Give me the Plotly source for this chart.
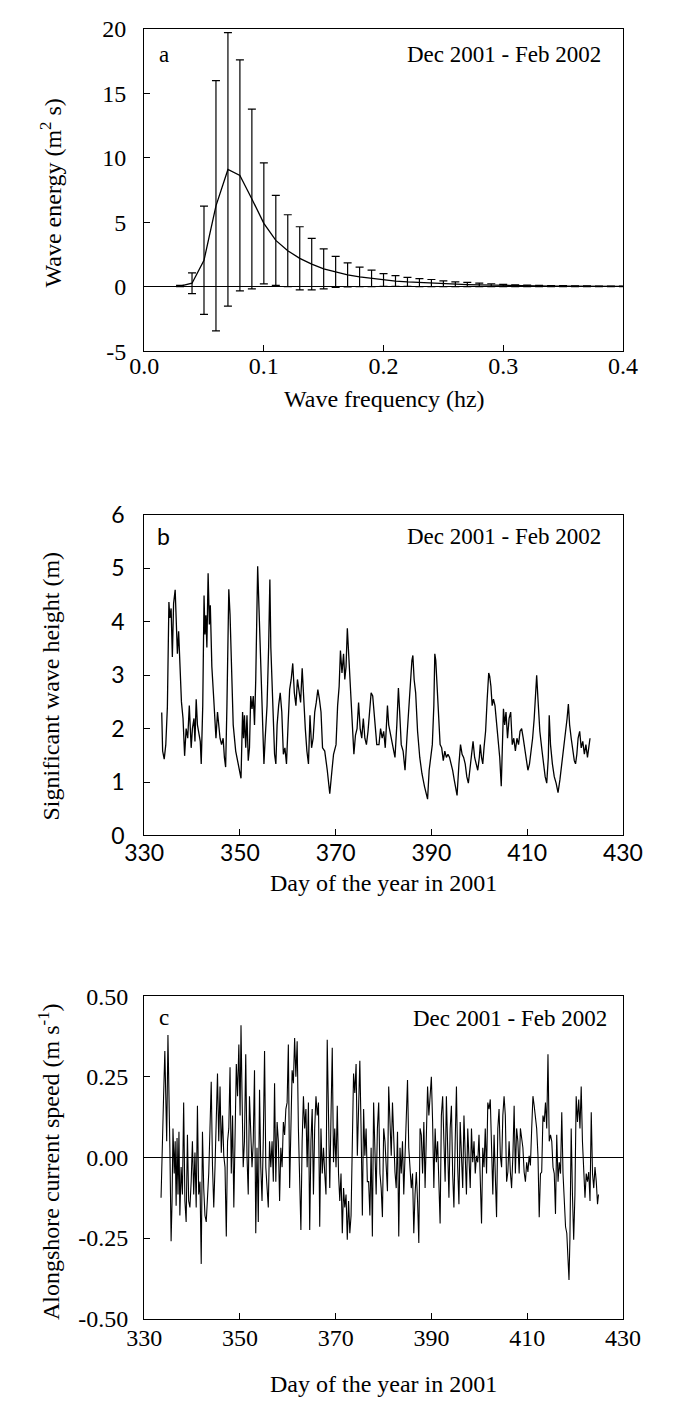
import plotly.graph_objects as go

W, H = 673, 1416
SERIF = "Liberation Serif"
SANS_B = "Lato"

# ---------------- Panel a: wave energy spectrum ----------------
freq = [0.03, 0.04, 0.05, 0.06, 0.07, 0.08, 0.09, 0.10, 0.11, 0.12,
        0.13, 0.14, 0.15, 0.16, 0.17, 0.18, 0.19, 0.20, 0.21, 0.22,
        0.23, 0.24, 0.25, 0.26, 0.27, 0.28, 0.29, 0.30, 0.31, 0.32,
        0.33, 0.34, 0.35, 0.36, 0.37, 0.38, 0.39, 0.40]
energy_mean = [0.05, 0.27, 2.05, 6.27, 9.09, 8.63, 6.8, 4.91, 3.59, 2.79,
               2.2, 1.75, 1.38, 1.15, 0.92, 0.76, 0.64, 0.52, 0.44, 0.37,
               0.32, 0.28, 0.23, 0.19, 0.165, 0.14, 0.115, 0.09, 0.075, 0.065,
               0.055, 0.045, 0.04, 0.035, 0.03, 0.025, 0.02, 0.02]
energy_sd = [0.05, 0.8, 4.2, 9.7, 10.6, 8.95, 6.97, 4.69, 3.49, 2.79,
             2.45, 2.0, 1.55, 1.2, 0.93, 0.76, 0.64, 0.5, 0.42, 0.35,
             0.31, 0.28, 0.23, 0.19, 0.165, 0.14, 0.115, 0.09, 0.075, 0.065,
             0.055, 0.045, 0.04, 0.035, 0.03, 0.025, 0.02, 0.02]
freq_ticks = [0.0, 0.1, 0.2, 0.3, 0.4]
freq_labels = ["0.0", "0.1", "0.2", "0.3", "0.4"]
energy_ticks = [-5, 0, 5, 10, 15, 20]
energy_labels = ["-5", "0", "5", "10", "15", "20"]

# ---------------- Panel b: significant wave height ----------------
hs_day = [333.67, 333.86, 334.19, 334.52, 334.85, 335.17, 335.37, 335.63, 335.89, 336.15,
          336.48, 336.68, 336.94, 337.2, 337.46, 337.79, 338.12, 338.45, 338.77, 339.1,
          339.43, 339.63, 339.82, 340.08, 340.41, 340.61, 340.87, 341.13, 341.39, 341.72,
          341.92, 342.24, 342.51, 342.7, 342.9, 343.1, 343.36, 343.62, 343.82, 344.14,
          344.54, 345.0, 345.32, 345.52, 345.85, 346.17, 346.5, 346.76, 347.02, 347.29,
          347.48, 347.68, 347.94, 348.2, 348.6, 349.12, 349.58, 349.91, 350.23, 350.56,
          350.76, 350.95, 351.22, 351.48, 351.74, 352.0, 352.26, 352.53, 352.79, 353.05,
          353.31, 353.71, 353.97, 354.23, 354.49, 354.76, 355.02, 355.28, 355.67, 356.0,
          356.26, 356.46, 356.72, 356.98, 357.24, 357.51, 357.77, 358.09, 358.42, 358.75,
          359.08, 359.4, 359.73, 360.06, 360.39, 360.71, 361.04, 361.37, 361.7, 362.02,
          362.35, 362.68, 363.01, 363.33, 363.66, 363.99, 364.32, 364.64, 364.97, 365.3,
          365.63, 365.95, 366.28, 366.61, 366.94, 367.26, 367.72, 368.25, 368.77, 369.23,
          369.56, 370.08, 370.41, 370.73, 371.0, 371.32, 371.65, 371.91, 372.17, 372.44,
          372.7, 372.96, 373.22, 373.48, 373.81, 374.14, 374.47, 374.79, 375.12, 375.45,
          375.78, 376.1, 376.43, 376.76, 377.09, 377.41, 377.74, 378.07, 378.59,
          379.05, 379.38, 379.71, 380.03, 380.36, 380.82, 381.08, 381.34, 381.67, 382.0,
          382.39, 382.78, 383.11, 383.37, 383.7, 384.09, 384.49, 384.88, 385.27, 385.6,
          385.93, 386.13, 386.39, 386.71, 387.11, 387.57, 388.02, 388.55, 388.94, 389.2,
          389.53, 389.86, 390.19, 390.51, 390.71, 390.91, 391.17, 391.49, 391.82, 392.15,
          392.48, 392.8, 393.13, 393.46, 393.79, 394.11, 394.44, 394.77, 395.1, 395.36,
          395.75, 396.08, 396.41, 396.73, 397.06, 397.39, 397.72, 398.04, 398.37, 398.7,
          399.03, 399.35, 399.68, 400.01, 400.21, 400.47, 400.73, 400.99, 401.32, 401.65,
          401.97, 402.17, 402.43, 402.69, 402.96, 403.28, 403.61, 403.94, 404.27, 404.59,
          404.79, 405.05, 405.31, 405.58, 405.9, 406.23, 406.56, 406.89, 407.21, 407.54,
          407.87, 408.2, 408.52, 408.85, 409.18, 409.51, 409.83, 410.16, 410.49, 410.81,
          411.14, 411.47, 411.8, 411.99, 412.26, 412.65, 413.11, 413.43, 413.76, 414.09,
          414.42, 414.61, 414.88, 415.27, 415.66, 416.05, 416.45, 416.84, 417.23, 417.69,
          418.02, 418.34, 418.61, 418.87, 419.2, 419.52, 419.85, 420.11, 420.38, 420.64,
          420.97, 421.29, 421.62, 421.95, 422.27, 422.6, 422.93, 423.13]
hs_m = [2.3, 1.58, 1.43, 1.7, 2.4, 4.37, 4.07, 4.25, 3.34, 4.34,
        4.6, 3.95, 3.4, 3.82, 3.28, 2.5, 2.19, 1.49, 2.0, 1.82,
        2.43, 2.07, 1.64, 2.0, 2.19, 1.76, 2.55, 2.07, 1.95, 1.76,
        1.34, 2.43, 4.49, 3.76, 4.12, 3.52, 4.91, 3.95, 4.31, 3.16,
        2.55, 1.82, 2.31, 2.07, 1.82, 1.7, 1.82, 1.46, 1.28, 2.43,
        3.76, 4.61, 4.13, 3.4, 2.07, 1.58, 1.34, 1.19, 1.07, 2.31,
        1.82, 2.25, 1.64, 2.25, 1.4, 1.64, 2.61, 2.37, 2.61, 2.07,
        2.92, 5.04, 4.25, 3.28, 2.55, 1.95, 1.34, 1.82, 2.43, 3.52,
        4.79, 3.52, 2.73, 1.95, 1.52, 1.34, 2.07, 2.43, 2.67, 2.31,
        1.52, 1.64, 1.34, 2.07, 2.73, 2.92, 3.22, 2.67, 2.43, 2.92,
        2.73, 2.49, 3.13, 2.43, 2.0, 1.58, 1.34, 2.25, 1.64, 1.82,
        2.31, 2.49, 2.73, 2.55, 2.31, 1.64, 1.58, 1.22, 0.78, 1.22,
        1.52, 1.7, 2.43, 2.79, 3.46, 3.04, 3.4, 2.92, 3.16, 3.88,
        3.4, 3.04, 2.55, 2.07, 1.52, 1.88, 2.0, 2.49, 2.0, 1.82,
        2.19, 1.82, 1.7, 1.95, 2.31, 2.67, 2.61, 2.19, 1.70,
        1.7, 2.0, 1.82, 1.95, 1.64, 2.43, 2.07, 1.95, 1.76, 1.64,
        1.46, 2.07, 2.76, 2.31, 1.7, 1.58, 1.22, 1.82, 2.31, 2.92,
        3.28, 3.37, 2.92, 2.67, 1.95, 1.46, 1.16, 0.92, 0.8, 0.68,
        1.22, 1.52, 1.7, 2.43, 3.4, 3.28, 2.79, 2.07, 1.7, 1.64,
        1.4, 1.58, 1.46, 1.52, 1.46, 1.34, 1.22, 1.04, 0.85, 0.75,
        1.34, 1.7, 1.52, 1.46, 1.34, 1.1, 0.98, 1.28, 1.52, 1.76,
        1.46, 1.34, 1.22, 1.46, 1.7, 1.46, 1.34, 1.64, 1.95, 2.55,
        3.04, 2.98, 2.79, 2.43, 2.55, 2.43, 2.07, 1.82, 1.46, 0.92,
        1.64, 2.37, 2.07, 2.31, 1.82, 2.19, 2.31, 1.7, 1.82, 1.58,
        1.82, 1.7, 1.95, 2.0, 1.82, 1.58, 1.4, 1.22, 1.34, 1.58,
        1.82, 2.19, 2.67, 3.0, 2.55, 1.95, 1.58, 1.34, 1.1, 0.98,
        1.46, 2.25, 1.7, 1.34, 1.1, 0.98, 0.8, 1.04, 1.34, 1.58,
        1.88, 2.19, 2.46, 2.07, 1.82, 1.58, 1.4, 1.34, 1.52, 1.82,
        1.95, 1.64, 1.76, 1.52, 1.7, 1.46, 1.76, 1.82]
hs_ticks = [0, 1, 2, 3, 4, 5, 6]
hs_labels = ["0", "1", "2", "3", "4", "5", "6"]

# ---------------- Panel c: alongshore current speed ----------------
cur_day = [333.53, 333.86, 334.06, 334.32, 334.52, 334.71, 334.97, 335.17, 335.37, 335.63,
           335.83, 336.02, 336.28, 336.48, 336.68, 336.87, 337.07, 337.27, 337.46, 337.72,
           337.99, 338.25, 338.51, 338.77, 339.04, 339.30, 339.56, 339.82, 340.08, 340.35,
           340.61, 340.87, 341.13, 341.39, 341.66, 341.92, 342.18, 342.44, 342.70, 342.97,
           343.23, 343.49, 343.75, 344.01, 344.27, 344.54, 344.80, 345.06, 345.32, 345.58,
           345.85, 346.11, 346.37, 346.63, 346.89, 347.16, 347.42, 347.68, 347.94, 348.20,
           348.47, 348.73, 348.99, 349.25, 349.51, 349.78, 350.04, 350.23, 350.43, 350.69,
           350.95, 351.22, 351.48, 351.74, 352.00, 352.26, 352.53, 352.79, 353.05, 353.31,
           353.57, 353.84, 354.10, 354.36, 354.62, 354.88, 355.15, 355.41, 355.67, 355.93,
           356.19, 356.46, 356.72, 356.98, 357.24, 357.50, 357.77, 358.03, 358.29, 358.55,
           358.81, 359.08, 359.34, 359.60, 359.86, 360.12, 360.39, 360.65, 360.91, 361.17,
           361.43, 361.69, 361.96, 362.22, 362.48, 362.74, 363.00, 363.27, 363.53, 363.79,
           364.05, 364.31, 364.58, 364.84, 365.10, 365.36, 365.62, 365.89, 366.15, 366.41,
           366.67, 366.93, 367.20, 367.46, 367.72, 367.98, 368.24, 368.50, 368.77, 369.03,
           369.29, 369.55, 369.81, 370.08, 370.34, 370.60, 370.86, 371.12, 371.39, 371.65,
           371.91, 372.17, 372.43, 372.70, 372.96, 373.22, 373.48, 373.74, 374.00, 374.27,
           374.53, 374.79, 375.05, 375.31, 375.58, 375.84, 376.10, 376.36, 376.62, 376.89,
           377.15, 377.41, 377.67, 377.93, 378.20, 378.46,
           378.72, 378.99, 379.25, 379.51, 379.77, 380.03, 380.30, 380.56, 380.82, 381.08,
           381.34, 381.61, 381.87, 382.13, 382.39, 382.65, 382.92, 383.18, 383.44, 383.70,
           383.96, 384.23, 384.49, 384.75, 385.01, 385.27, 385.54, 385.80, 386.06, 386.32,
           386.58, 386.85, 387.11, 387.37, 387.63, 387.89, 388.16, 388.42, 388.68, 388.94,
           389.20, 389.47, 389.73, 389.99, 390.25, 390.51, 390.78, 391.04, 391.30, 391.56,
           391.82, 392.08, 392.35, 392.61, 392.87, 393.13, 393.39, 393.66, 393.92, 394.18,
           394.44, 394.70, 394.97, 395.23, 395.49, 395.75, 396.01, 396.28, 396.54, 396.80,
           397.06, 397.32, 397.59, 397.85, 398.11, 398.37, 398.63, 398.90, 399.16, 399.42,
           399.68, 399.94, 400.21, 400.47, 400.73, 400.99, 401.25, 401.52, 401.78, 402.04,
           402.30, 402.56, 402.83, 403.09, 403.35, 403.61, 403.87, 404.13, 404.40, 404.66,
           404.92, 405.18, 405.44, 405.71, 405.97, 406.23, 406.49, 406.75, 407.02, 407.28,
           407.54, 407.80, 408.06, 408.33, 408.59, 408.85, 409.11, 409.37, 409.64, 409.90,
           410.16, 410.42, 410.68, 410.95, 411.21, 411.47, 411.73, 411.99, 412.26, 412.52,
           412.78, 413.04, 413.30, 413.57, 413.83, 414.09, 414.35, 414.61, 414.88, 415.14,
           415.40, 415.66, 415.92, 416.18, 416.45, 416.71, 416.97, 417.23, 417.49, 417.76,
           418.02, 418.28, 418.54, 418.74, 418.93, 419.20, 419.46, 419.72, 419.98, 420.24,
           420.51, 420.77, 421.03, 421.29, 421.55, 421.82, 422.08, 422.34, 422.60, 422.86,
           423.13, 423.39, 423.65, 423.91, 424.17, 424.44, 424.70, 424.90]
cur_ms = [-0.125, 0.15, 0.19, 0.33, 0.17, 0.05, 0.38, 0.25, 0.03, -0.26,
          -0.135, 0.09, -0.05, 0.05, -0.15, 0.06, -0.115, 0.08, -0.18, -0.03,
          -0.115, 0.17, -0.135, -0.2, 0.07, -0.135, -0.155, -0.075, 0.05, -0.115,
          0.015, -0.155, 0.16, -0.115, -0.075, -0.33, 0.08, -0.095, -0.18, -0.2,
          -0.135, -0.05, 0.09, 0.235, -0.025, -0.155, -0.03, 0.09, 0.26, 0.05,
          0.22, 0.015, 0.13, 0.005, -0.03, -0.245, 0.05, 0.09, 0.28, -0.05,
          0.13, -0.155, 0.15, 0.29, 0.19, 0.35, 0.13, 0.41, 0.21, -0.03,
          0.05, 0.32, 0.005, -0.115, 0.19, 0.05, -0.03, 0.05, 0.27, -0.235,
          0.03, -0.2, 0.21, -0.03, -0.135, 0.05, 0.33, -0.03, -0.115, -0.155,
          0.05, -0.03, 0.05, -0.075, 0.23, -0.075, 0.11, 0.05, -0.135, 0.03,
          -0.03, 0.11, 0.07, 0.15, 0.17, 0.35, -0.095, 0.15, 0.27, 0.23,
          0.37, 0.25, 0.36, 0.09, -0.05, -0.225, 0.05, 0.19, 0.09, 0.15,
          -0.03, 0.17, -0.225, 0.05, 0.15, -0.115, 0.09, 0.19, 0.13, 0.17,
          -0.215, 0.09, -0.05, 0.03, -0.05, -0.115, 0.365, 0.05, -0.095, 0.13,
          0.34, -0.015, 0.09, -0.03, 0.16, -0.05, -0.135, -0.05, -0.235, -0.095,
          -0.155, -0.115, -0.255, -0.135, -0.235, -0.18, 0.09, 0.26, 0.2, 0.29,
          0.005, 0.18, 0.3, 0.09, -0.18, 0.15, 0.005, 0.09, -0.075, -0.075,
          -0.18, 0.03, -0.245, 0.17, 0.03, -0.115,
          0.09, 0.17, -0.05, -0.095, -0.185, 0.09, 0.05, -0.05, -0.105, 0.22,
          0.09, 0.005, 0.17, 0.05, -0.045, -0.095, 0.08, -0.245, 0.03, -0.05,
          0.05, -0.115, 0.005, 0.07, 0.24, 0.03, -0.05, -0.095, -0.05, -0.235,
          -0.115, -0.045, -0.135, -0.265, 0.09, 0.07, -0.05, 0.11, -0.095, 0.07,
          0.22, 0.13, 0.19, 0.25, 0.11, -0.095, 0.09, -0.015, 0.05, -0.075,
          -0.205, 0.13, 0.19, 0.05, -0.075, 0.19, 0.03, -0.125, 0.09, 0.16,
          -0.05, -0.155, 0.05, 0.22, -0.03, -0.145, 0.11, 0.005, -0.095, 0.13,
          -0.015, -0.115, 0.09, -0.03, -0.095, 0.09, -0.015, 0.05, -0.05, 0.005,
          -0.015, 0.07, -0.05, -0.205, 0.03, -0.03, 0.09, -0.05, 0.17, 0.15,
          0.18, 0.005, -0.115, 0.07, -0.05, -0.185, 0.09, 0.15, 0.005, -0.03,
          0.13, 0.19, 0.13, -0.075, -0.045, 0.05, -0.045, -0.095, 0.005, 0.16,
          -0.05, 0.09, 0.05, -0.05, 0.09, 0.05, 0.03, -0.045, -0.075, -0.015,
          -0.045, 0.005, -0.025, 0.09, 0.19, 0.16, 0.11, 0.09, 0.005, -0.185,
          -0.05, -0.045, 0.13, 0.11, 0.17, 0.09, 0.32, 0.05, 0.07, 0.05,
          -0.03, -0.05, -0.175, 0.07, -0.075, -0.015, -0.05, 0.14, -0.05, -0.115,
          -0.215, -0.235, -0.32, -0.38, -0.255, 0.09, -0.115, -0.255, -0.115, 0.19,
          0.11, 0.18, 0.09, 0.22, 0.05, -0.05, -0.125, -0.05, -0.075, -0.045,
          -0.135, 0.14, -0.05, -0.095, -0.03, -0.075, -0.145, -0.115]
day_ticks = [330, 350, 370, 390, 410, 430]
day_labels = ["330", "350", "370", "390", "410", "430"]
cur_ticks = [-0.5, -0.25, 0.0, 0.25, 0.5]
cur_labels = ["-0.50", "-0.25", "0.00", "0.25", "0.50"]

period_text = "Dec 2001 - Feb 2002"
x_title_a = "Wave frequency (hz)"
x_title_bc = "Day of the year in 2001"
y_title_a = "Wave energy (m<sup>2</sup> s)"
y_title_b = "Significant wave height (m)"
y_title_c = "Alongshore current speed (m s<sup>-1</sup>)"

# ---------------- figure ----------------
fig = go.Figure()
fig.add_trace(go.Scatter(
    x=freq, y=energy_mean, mode="lines", xaxis="x", yaxis="y",
    line=dict(color="black", width=1.3),
    error_y=dict(type="data", array=energy_sd, visible=True,
                 color="black", thickness=1.2, width=4),
    showlegend=False, hoverinfo="skip"))
fig.add_trace(go.Scatter(
    x=hs_day, y=hs_m, mode="lines", xaxis="x2", yaxis="y2",
    line=dict(color="black", width=1.3), showlegend=False))
fig.add_trace(go.Scatter(
    x=cur_day, y=cur_ms, mode="lines", xaxis="x3", yaxis="y3",
    line=dict(color="black", width=1.1), showlegend=False))


def px(x, y):
    return x / W, 1 - y / H


XD = [132 / W, 641 / W]
ya_dom = [px(0, 343)[1], px(0, 14)[1]]
yb_dom = [px(0, 837)[1], px(0, 510)[1]]
yc_dom = [px(0, 1330)[1], px(0, 1001)[1]]

serif_tick = dict(family=SERIF, size=24, color="black")
sans_tick = dict(family=SANS_B, size=23, color="black")
common = dict(showline=True, linecolor="black", linewidth=1, mirror=True,
              ticks="inside", ticklen=6, tickcolor="black", tickwidth=1,
              showgrid=False)

fig.update_layout(
    width=W, height=H, autosize=False,
    margin=dict(l=0, r=0, t=0, b=0),
    paper_bgcolor="white", plot_bgcolor="white",
    font=dict(family=SERIF, size=24, color="black"),
    xaxis=dict(domain=XD, anchor="y", range=[0, 0.4], tickvals=freq_ticks,
               ticktext=freq_labels, ticklabelstandoff=-7, zeroline=False,
               tickfont=serif_tick, **common),
    yaxis=dict(domain=ya_dom, anchor="x", range=[-5, 20], tickvals=energy_ticks,
               ticktext=energy_labels, ticklabelstandoff=12, tickfont=serif_tick,
               zeroline=True, zerolinecolor="black", zerolinewidth=1.2, **common),
    xaxis2=dict(domain=XD, anchor="y2", range=[330, 430], tickvals=day_ticks,
                ticktext=day_labels, ticklabelstandoff=-3, zeroline=False,
                tickfont=sans_tick, **common),
    yaxis2=dict(domain=yb_dom, anchor="x2", range=[0, 6], tickvals=hs_ticks,
                ticktext=hs_labels, ticklabelstandoff=14, zeroline=False,
                tickfont=sans_tick, **common),
    xaxis3=dict(domain=XD, anchor="y3", range=[330, 430], tickvals=day_ticks,
                ticktext=day_labels, ticklabelstandoff=-3, zeroline=False,
                tickfont=serif_tick, **common),
    yaxis3=dict(domain=yc_dom, anchor="x3", range=[-0.5, 0.5], tickvals=cur_ticks,
                ticktext=cur_labels, ticklabelstandoff=10, tickfont=serif_tick,
                zeroline=True, zerolinecolor="black", zerolinewidth=1.2, **common),
)

ann = []


def add_text(text, x, y, size=24, angle=0, xanchor="center", family=SERIF):
    ax, ay = px(x, y)
    ann.append(dict(text=text, x=ax, y=ay, xref="paper", yref="paper",
                    showarrow=False, textangle=angle, xanchor=xanchor,
                    yanchor="middle",
                    font=dict(family=family, size=size, color="black")))


add_text("a", 153, 40, size=23)
add_text("b", 153, 532, size=23, family=SANS_B)
add_text("c", 153, 1023, size=23)
for xx, yy in ((515, 40), (515, 532), (521, 1024)):
    add_text(period_text, xx, yy, size=23)
add_text(x_title_a, 388, 392)
add_text(x_title_bc, 386, 886)
add_text(x_title_bc, 386, 1397)
add_text(y_title_a, 33, 182, angle=-90)
add_text(y_title_b, 33, 685, angle=-90)
add_text(y_title_c, 31, 1170, angle=-90)
fig.update_layout(annotations=ann)

fig.write_html("out.html")
